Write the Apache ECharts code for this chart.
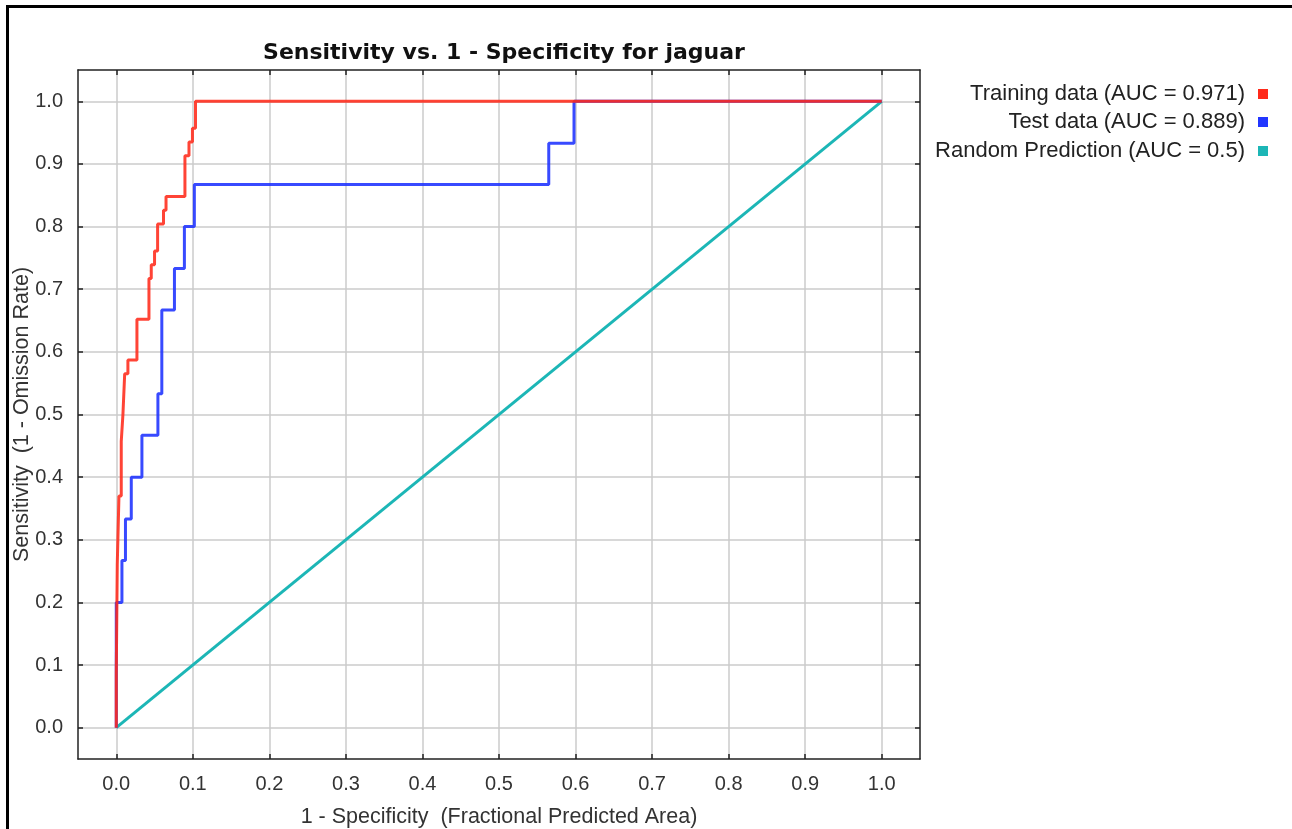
<!DOCTYPE html>
<html>
<head>
<meta charset="utf-8">
<script src="https://cdn.jsdelivr.net/npm/echarts@6/dist/echarts.min.js"></script>
<style>
html,body{margin:0;padding:0;background:#fff;}
#chart{width:1292px;height:829px;}
</style>
</head>
<body>
<div id="chart"></div>
<script>
// ---- data ----
const titleText = 'Sensitivity vs. 1 - Specificity for jaguar';
const xName = '1 - Specificity  (Fractional Predicted Area)';
const yName = 'Sensitivity  (1 - Omission Rate)';
const tickValues = [0, 0.1, 0.2, 0.3, 0.4, 0.5, 0.6, 0.7, 0.8, 0.9, 1.0];
const seriesNames = ['Training data (AUC = 0.971)', 'Test data (AUC = 0.889)', 'Random Prediction (AUC = 0.5)'];
// step curves: each point = (x where the level ends, level reached)
const trainX = [0.0013, 0.0035, 0.0065, 0.0087, 0.011, 0.0152, 0.027, 0.0427, 0.0457, 0.050, 0.054, 0.0617, 0.065, 0.0897, 0.095, 0.0995, 0.1035, 1.0];
const trainY = [0.087, 0.261, 0.370, 0.457, 0.500, 0.565, 0.587, 0.652, 0.717, 0.739, 0.761, 0.804, 0.826, 0.848, 0.913, 0.935, 0.957, 1.0];
const testX = [0.0074, 0.012, 0.0196, 0.0335, 0.0544, 0.0595, 0.076, 0.089, 0.102, 0.565, 0.598, 1.0];
const testY = [0.200, 0.267, 0.333, 0.400, 0.467, 0.533, 0.667, 0.733, 0.800, 0.867, 0.933, 1.0];
const randomX = [0, 1];
const randomY = [0, 1];

// expand step data into vertices (vertical rise, then horizontal run)
function stepVertices(xs, ys) {
  const pts = [[0, 0]];
  let px = 0;
  for (let i = 0; i < xs.length; i++) {
    pts.push([px, ys[i]]);
    pts.push([xs[i], ys[i]]);
    px = xs[i];
  }
  return pts;
}
const pairs = (xs, ys) => xs.map((x, i) => [x, ys[i]]);

const FONT = 'Liberation Sans, Arial, sans-serif';
const colors = ['#ff2a1a', '#2236ff', '#1cb6b6'];

const chart = echarts.init(document.getElementById('chart'), null, {renderer: 'canvas'});

function xAx(pos, show) {
  return {
    type: 'value', position: pos, min: -0.05, max: 1.05,
    name: show ? xName : '', nameLocation: 'middle', nameGap: 47, nameMoveOverlap: false,
    nameTextStyle: {fontFamily: FONT, fontSize: 21.5, color: '#333'},
    axisLine: {show: true, onZero: false, lineStyle: {color: '#222', width: 1.5}},
    axisTick: {show: true, inside: true, length: 5, customValues: tickValues, lineStyle: {color: '#222', width: 1.5}},
    axisLabel: {show: show, customValues: tickValues, margin: 15, fontFamily: FONT, fontSize: 20, color: '#333',
      formatter: v => v.toFixed(1)},
    splitLine: {show: show, lineStyle: {color: '#cbcbcb', width: 1.5}}
  };
}
function yAx(pos, show) {
  return {
    type: 'value', position: pos, min: -0.05, max: 1.05,
    name: show ? yName : '', nameLocation: 'middle', nameGap: 45, nameRotate: 90, nameMoveOverlap: false,
    nameTextStyle: {fontFamily: FONT, fontSize: 21.5, color: '#333'},
    axisLine: {show: true, onZero: false, lineStyle: {color: '#222', width: 1.5}},
    axisTick: {show: true, inside: true, length: 5, customValues: tickValues, lineStyle: {color: '#222', width: 1.5}},
    axisLabel: {show: show, customValues: tickValues, margin: 15, fontFamily: FONT, fontSize: 20, color: '#333',
      formatter: v => v.toFixed(1)},
    splitLine: {show: show, lineStyle: {color: '#cbcbcb', width: 1.5}}
  };
}

const legendBase = {
  orient: 'vertical', right: 19, align: 'right', icon: 'rect',
  itemWidth: 10, itemHeight: 10, itemGap: 10,
  textStyle: {fontFamily: FONT, fontSize: 22, color: '#222', padding: [0, 8, 0, 0]}
};

chart.setOption({
  animation: false,
  backgroundColor: '#ffffff',
  color: colors,
  title: {
    text: titleText, left: 499, top: 37, textAlign: 'center',
    textStyle: {fontFamily: 'DejaVu Sans, sans-serif', fontSize: 22, fontWeight: 'bold', color: '#111'}
  },
  legend: [
    Object.assign({}, legendBase, {top: 78, data: [seriesNames[0]]}),
    Object.assign({}, legendBase, {top: 106, data: [seriesNames[1]]}),
    Object.assign({}, legendBase, {top: 135, data: [seriesNames[2]]})
  ],
  grid: {left: 78, top: 70, right: 372, bottom: 70, containLabel: false, outerBoundsMode: 'none', show: false},
  xAxis: [xAx('bottom', true), xAx('top', false)],
  yAxis: [yAx('left', true), yAx('right', false)],
  graphic: [{
    type: 'rect', z: 100, silent: true,
    shape: {x: 7.5, y: 6.5, width: 1400, height: 900},
    style: {fill: 'none', stroke: '#000', lineWidth: 3}
  }],
  series: [
    {
      name: seriesNames[2], type: 'line', xAxisIndex: 0, yAxisIndex: 0,
      data: pairs(randomX, randomY), showSymbol: false, symbol: 'none',
      lineStyle: {color: colors[2], width: 3}, itemStyle: {color: colors[2]}, z: 2
    },
    {
      name: seriesNames[1], type: 'line', xAxisIndex: 0, yAxisIndex: 0,
      data: stepVertices(testX, testY), showSymbol: false, symbol: 'none',
      lineStyle: {color: colors[1], width: 3, opacity: 0.9}, itemStyle: {color: colors[1]}, z: 3
    },
    {
      name: seriesNames[0], type: 'line', xAxisIndex: 0, yAxisIndex: 0,
      data: stepVertices(trainX, trainY), showSymbol: false, symbol: 'none',
      lineStyle: {color: colors[0], width: 3, opacity: 0.88}, itemStyle: {color: colors[0]}, z: 4
    }
  ]
});
</script>
</body>
</html>
